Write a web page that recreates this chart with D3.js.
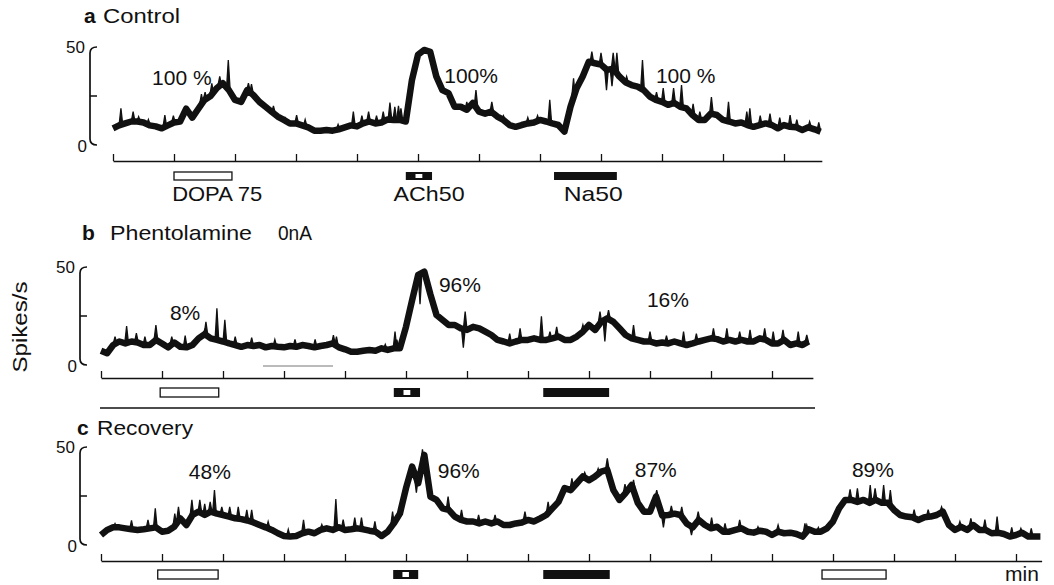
<!DOCTYPE html>
<html><head><meta charset="utf-8">
<script src="https://cdn.jsdelivr.net/npm/d3@7"></script>
<style>
body{margin:0;background:#fff}
text{font-family:"Liberation Sans",Arial,Helvetica,sans-serif;fill:#111}
</style></head><body>
<svg id="chart" width="1054" height="585"></svg>
<script>
// ---------------- DATA ----------------
const STEP = 0.1; // minutes between samples
const traceA = [
 8.5,10,11,12,12,11.5,10,9.5,8.5,10,
 11.5,12,18.5,14,18.5,23,25,29,31.5,28,
 23,22,28,25.5,22,19.5,17,14.5,12.8,11,
 11,10,9,7.3,7.3,7.7,7.3,8,9,10,
 9.5,11,12,11,11.5,13,12.8,12.8,12,33,
 46,48.5,47.5,35,28,26.5,19.5,19.5,18,21.5,
 17,16,17,14.5,12.8,10.2,9.3,10.2,11,11.5,
 12.8,12,11,10.2,6.8,19.5,29,35,42.5,41.7,
 41,38.3,39,35,32,30.6,29.8,28,24.7,23,
 22,20.5,21.5,19.5,18.7,15.3,12.8,12.8,16,15.3,
 12.8,12,11,11.5,10.2,9.3,10.2,11,10.2,8.5,
 10.2,9.3,9,7.7,9,8,6.8
];
const traceB = [
 7.3,6,10.2,12,11,12,11.5,10.2,10.2,12.8,
 11,9,11.5,9.3,9,10.2,13.6,15.8,13.6,12.8,
 12,11,10.2,9.3,10.2,9.7,10.2,9,9.7,9.3,
 9,9.7,9.3,10.2,9.7,9,9.7,10.2,11,9,
 8,6.8,6.8,7.3,7.7,7.3,8.5,7.7,8.5,8.5,
 19.5,33,46,47.6,36,25.5,23,20.4,20.4,18.7,
 17.9,19.5,18.7,17,15.3,12.8,12,11,12,12.8,
 12.8,13.6,12.8,12.8,13.6,14.5,12.8,12.8,14.5,17,
 20.4,17.9,22,23.8,22,18.7,15.3,13.6,12.8,12,
 12,11,11.5,11,12,11,10.2,11,12,12.8,
 13.6,13.2,12,12.8,12,12.8,12,12,13.6,12.8,
 11,11,12.8,10.2,11,10.2,12
];
const traceC = [
 5.1,7.7,9,9,8.5,8,7.7,8,8.5,9,
 6.8,7.3,9.3,13.6,10.2,15.3,17,15.3,17,16,
 15.3,14.5,13.6,13.2,12.5,11.5,10.2,9,7.7,6,
 4.6,4.3,4.6,6,6.8,6,7.7,8.5,7.7,9,
 7.7,8,8.5,8,7.3,6.8,4.6,6.8,11,16,
 29,40,31.5,46,24.7,23,18.7,17.9,14.5,12.8,
 12,12,11,12,11,12,10.2,10.2,11,11.5,
 12.8,12,13.6,15.3,18.7,22,29,28,31.5,35,
 33,35,37.4,38.3,28,23,26.5,30.6,21.5,17,
 17,24.7,15,15.3,16,15.3,11,9,12.8,10.2,
 8.5,9.3,6.8,6.8,7.7,8.5,6.8,6.3,7.3,6.8,
 5.1,6.8,6,6.3,5.6,4.3,8,6.8,6.8,8.5,
 12,18.7,23,23,22,23,21.5,23,21.5,21.5,
 17.9,15.3,14.5,14.2,12.8,14.2,14.5,15.3,17,10.2,
 7.7,9.3,7.7,10.2,7.7,7.7,6,6.3,5.6,4.3,
 5.1,6.3,4.3,4.3,4.3
];
// brief spikes: [minute, spikes/s]
const spikesA = [[0.13,18.7],[0.33,17],[0.42,14.5],[0.58,13],[0.85,15.3],[0.99,15],[1.45,26],[1.51,27],[1.62,31.5],[1.75,35],[1.89,43.4],[2.22,31.5],[2.27,31],[2.63,20],[2.82,14],[3.01,15.3],[3.15,13],[3.69,10.5],[3.94,17],[4.08,15],[4.19,17],[4.32,15],[4.43,17],[4.54,21.6],[4.62,19.5],[4.68,20],[4.72,18.7],[5.2,45],[5.8,22],[5.95,28],[6.21,22],[6.4,15],[6.8,14],[6.96,15],[7.16,23],[7.55,34],[7.85,47.6],[8.0,47],[8.09,28],[8.18,30],[8.2,47],[8.26,47],[8.42,35],[8.68,43.4],[8.91,27],[9.02,29],[9.19,29],[9.32,30.6],[9.51,21],[9.62,17],[9.81,24.4],[10.09,22],[10.39,17],[10.44,18.7],[10.61,15],[10.77,16],[10.93,14],[11.1,15.3],[11.21,13],[11.42,12],[11.57,11.5]];
const spikesB = [[0.23,14.5],[0.42,19.8],[0.58,16.3],[0.72,14.5],[0.9,20.4],[1.16,14.5],[1.38,15],[1.7,18],[1.72,22],[1.9,28.9],[2.03,23],[2.2,14.5],[2.47,14],[2.85,13],[3.18,13],[3.51,13],[3.81,15.3],[3.86,14.5],[4.66,10.5],[4.82,17],[4.85,13],[5.23,31],[5.94,8.8],[5.97,27.2],[6.7,16],[6.87,18.7],[7.22,24.8],[7.36,17],[7.47,19.5],[7.9,20.5],[8.18,27.2],[8.26,12],[8.32,28],[8.73,20.4],[9.0,17],[9.27,15],[9.55,17],[9.76,16],[10.04,18.7],[10.26,18.7],[10.47,17],[10.64,17.9],[10.88,18.7],[11.02,17],[11.18,17.9],[11.43,17],[11.57,15.3]];
const spikesC = [[0.23,11],[0.5,12.5],[0.77,12.8],[0.89,18.7],[1.21,16],[1.27,19.5],[1.49,23],[1.62,23],[1.7,21],[1.79,22],[1.86,28],[1.98,19.5],[2.11,19.5],[2.25,19.5],[2.39,17.9],[2.47,17.9],[2.74,12],[3.07,8],[3.32,12.8],[3.62,10.5],[3.85,23.4],[3.97,13],[4.16,14],[4.27,14],[4.49,12],[4.78,17],[5.17,26.7],[5.27,48.8],[5.53,21],[5.69,24.7],[5.91,17.9],[6.19,15.3],[6.46,15.3],[6.95,17],[7.33,22],[7.72,34],[7.93,37],[8.15,39],[8.3,44.2],[8.59,31],[8.73,33.2],[9.11,28],[9.22,9],[9.35,20],[9.52,19.5],[9.68,5],[9.79,17],[10.01,14],[10.23,11],[10.47,12.8],[10.77,9.3],[11.1,10.2],[11.54,11],[11.57,10.2],[11.76,9],[12.09,19.5],[12.28,28.4],[12.4,28.9],[12.61,30.6],[12.69,28.9],[12.83,30.6],[12.94,28],[13.33,18],[13.56,18],[13.78,19.5],[14.08,12],[14.26,13.6],[14.49,13],[14.69,14.5],[14.93,9],[15.08,8.5],[15.25,8.5]];
// drug applications: [kind, start min, end min]
const stimA = [["open",1.0,1.95],["ach",4.8,5.23],["solid",7.23,8.26]];
const stimB = [["open",0.97,1.93],["ach",4.8,5.23],["solid",7.25,8.33]];
const stimC = [["open",0.93,1.92],["ach",4.79,5.2],["solid",7.25,8.34],["open",11.82,12.87]];
const stimNames = ["DOPA 75","ACh50","Na50"];
// response labels: [text, minute, spikes/s]
const pctA = [["100 %",0.64,30.6],["100%",5.43,31.6],["100 %",8.9,31.6]];
const pctB = [["8%",1.13,23],["96%",5.54,37.2],["16%",8.95,29.6]];
const pctC = [["48%",1.44,33.7],["96%",5.52,34.2],["87%",8.75,34.7],["89%",12.31,34.7]];
const yTickValues = [0,25,50];
const yTickLabels = ["0","","50"];
const titles = [["a","Control"],["b","Phentolamine","0nA"],["c","Recovery"]];
const yLabel = "Spikes/s";
const xUnit = "min";

// ---------------- LAYOUT ----------------
const svg = d3.select("#chart");
const PX_MIN = 61;
const panels = [
 {x0:113,yTop:47,yBase:145,axisY:161,tMax:11.62,nTicks:12,bx:90,barY:172,barH:8,trace:traceA,spikes:spikesA,stim:stimA,pct:pctA},
 {x0:101,yTop:267,yBase:365,axisY:378,tMax:11.67,nTicks:12,bx:80,barY:388,barH:9,trace:traceB,spikes:spikesB,stim:stimB,pct:pctB},
 {x0:101,yTop:447,yBase:545,axisY:561,tMax:15.42,nTicks:16,bx:80,barY:570,barH:9,trace:traceC,spikes:spikesC,stim:stimC,pct:pctC}
];

panels.forEach((p,pi)=>{
  const x = d3.scaleLinear().domain([0,p.tMax]).range([p.x0,p.x0+PX_MIN*p.tMax]);
  const y = d3.scaleLinear().domain([0,50]).range([p.yBase,p.yTop]);
  const g = svg.append("g");
  const pts = p.trace.map((v,i)=>[i*STEP,v]);
  const interp = t => { const i=Math.min(Math.floor(t/STEP),pts.length-2); const f=(t-i*STEP)/STEP; return pts[i][1]*(1-f)+pts[i+1][1]*f; };

  // spikes
  g.selectAll("path.spk").data(p.spikes).join("path").attr("class","spk")
   .attr("d",d=>{const b=interp(d[0]);return `M${x(d[0]-0.03)},${y(b)}L${x(d[0])},${y(d[1])}L${x(d[0]+0.03)},${y(b)}`;})
   .attr("fill","#111").attr("stroke","#111").attr("stroke-width",1.3).attr("stroke-linejoin","miter");
  // trace band
  g.append("path").datum(pts)
   .attr("d",d3.line().x(d=>x(d[0])).y(d=>y(d[1])))
   .attr("fill","none").attr("stroke","#111").attr("stroke-width",6.5).attr("stroke-linejoin","round").attr("stroke-linecap","butt");

  // time axis
  const ax = g.append("g").attr("transform",`translate(0,${p.axisY})`)
   .call(d3.axisTop(x).tickValues(d3.range(0,p.nTicks)).tickSize(7).tickSizeOuter(0).tickFormat(""));
  ax.select(".domain").attr("stroke","#111").attr("stroke-width",1.6);
  ax.selectAll(".tick line").attr("stroke","#111").attr("stroke-width",1.3);

  // y bracket
  const bx=p.bx, y0=y(0), y50=y(50);
  g.append("path").attr("d",`M${bx+7},${y50} Q${bx},${y50} ${bx},${y50+6} L${bx},${y0-6} Q${bx},${y0} ${bx+7},${y0} M${bx},${y(25)} L${bx+7},${y(25)}`)
   .attr("fill","none").attr("stroke","#111").attr("stroke-width",1.7);
  g.selectAll("text.yl").data(yTickValues.map((v,i)=>[v,yTickLabels[i]]).filter(d=>d[1]!=="")).join("text").attr("class","yl")
   .attr("x",d=>d[0]===0?bx-3:bx-5).attr("y",d=>y(d[0])+(d[0]===0?7:6))
   .attr("text-anchor","end").attr("font-size",17).text(d=>d[1]);

  // stimulus bars
  p.stim.forEach(s=>{
    const xa=x(s[1]), xb=x(s[2]);
    if(s[0]==="open"){
      g.append("rect").attr("x",xa).attr("y",p.barY).attr("width",xb-xa).attr("height",p.barH)
       .attr("fill","#fff").attr("stroke","#111").attr("stroke-width",1.3);
    } else {
      g.append("rect").attr("x",xa).attr("y",p.barY).attr("width",xb-xa).attr("height",p.barH).attr("fill","#111");
      if(s[0]==="ach"){
        const w=xb-xa;
        g.append("rect").attr("x",xa+0.37*w).attr("y",p.barY+2).attr("width",0.26*w).attr("height",p.barH-4).attr("fill","#fff");
      }
    }
  });

  // percent labels
  g.selectAll("text.pct").data(p.pct).join("text").attr("class","pct")
   .attr("x",d=>x(d[1])).attr("y",d=>y(d[2])).attr("font-size",21).text(d=>d[0]);
});

// stimulus names under panel a
const xa = d3.scaleLinear().domain([0,1]).range([113,113+PX_MIN]);
const nameT = [0.97,4.6,7.39], nameW=[90,71,59];
stimNames.forEach((n,i)=>{
  svg.append("text").attr("x",xa(nameT[i])).attr("y",201).attr("font-size",21)
   .attr("textLength",nameW[i]).attr("lengthAdjust","spacingAndGlyphs").text(n);
});

// panel titles
const tpos = [{x:84,y:23,parts:[[103,77]]},{x:82,y:240,parts:[[110,142],[278,34]]},{x:77,y:435,parts:[[97,96]]}];
titles.forEach((t,i)=>{
  svg.append("text").attr("x",tpos[i].x).attr("y",tpos[i].y).attr("font-size",21).attr("font-weight","bold").text(t[0]);
  tpos[i].parts.forEach((pp,j)=>{
    svg.append("text").attr("x",pp[0]).attr("y",tpos[i].y).attr("font-size",21)
     .attr("textLength",pp[1]).attr("lengthAdjust","spacingAndGlyphs").text(t[j+1]);
  });
});

// y label
svg.append("text").attr("transform","translate(27,327) rotate(-90)").attr("text-anchor","middle")
 .attr("font-size",21).attr("textLength",91).attr("lengthAdjust","spacingAndGlyphs").text(yLabel);
// unit
svg.append("text").attr("x",1005).attr("y",581).attr("font-size",21).text(xUnit);

// separator under panel b and faint pen mark
svg.append("line").attr("x1",100).attr("x2",815).attr("y1",408).attr("y2",408).attr("stroke","#111").attr("stroke-width",1.6);
svg.append("line").attr("x1",263).attr("x2",333).attr("y1",366).attr("y2",366).attr("stroke","#777").attr("stroke-width",1);
</script>
</body></html>
